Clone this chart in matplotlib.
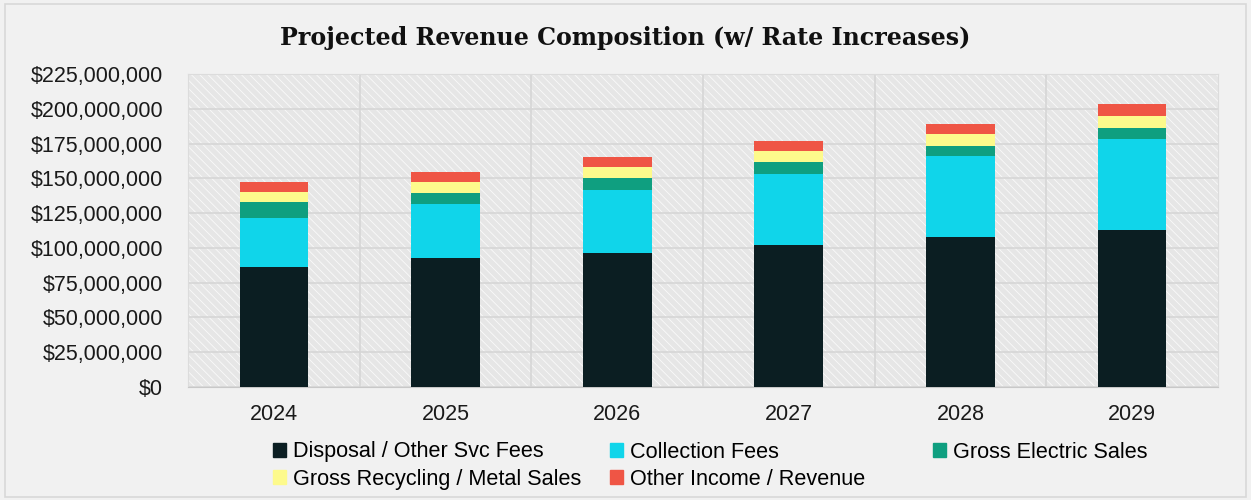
import matplotlib.pyplot as plt
import matplotlib.patches as mpatches
from matplotlib.ticker import FuncFormatter, MultipleLocator

years = ["2024", "2025", "2026", "2027", "2028", "2029"]

# revenue by source, in millions of dollars
disposal = [86.3, 93.0, 96.5, 101.9, 107.8, 112.6]
collection = [35.2, 38.6, 45.1, 51.2, 57.9, 65.7]
electric = [11.5, 7.9, 8.9, 8.4, 7.8, 8.2]
recycling = [7.0, 8.1, 7.9, 8.4, 8.2, 8.6]
other = [7.4, 7.2, 6.7, 7.0, 7.6, 8.1]

series = [
    ("Disposal / Other Svc Fees", disposal, "#0b1e22"),
    ("Collection Fees", collection, "#10d5ea"),
    ("Gross Electric Sales", electric, "#0f9f80"),
    ("Gross Recycling / Metal Sales", recycling, "#fdfa8c"),
    ("Other Income / Revenue", other, "#ef5545"),
]

plt.rcParams["font.family"] = ["Liberation Sans", "DejaVu Sans"]
plt.rcParams["hatch.color"] = "#fafafa"
plt.rcParams["hatch.linewidth"] = 0.6

fig = plt.figure(figsize=(12.51, 5), dpi=100, facecolor="#f1f1f1")
ax = fig.add_axes([0.1503, 0.226, 0.8233, 0.626])
ax.set_facecolor("#e6e6e6")

# hatched plot background
ax.add_patch(mpatches.Rectangle((0, 0), 1, 1, transform=ax.transAxes,
                                facecolor="#e6e6e6", hatch="\\\\\\\\",
                                edgecolor="#fafafa", linewidth=0, zorder=0))

# figure border
fig.add_artist(mpatches.Rectangle((0.004, 0.006), 0.992, 0.986,
                                  transform=fig.transFigure, fill=False,
                                  edgecolor="#d8d8d8", linewidth=1.2))

x = list(range(len(years)))
bottom = [0.0] * len(years)
handles = {}
for name, vals, color in series:
    ax.bar(x, [v * 1e6 for v in vals], width=0.4,
           bottom=[b * 1e6 for b in bottom], color=color,
           zorder=3, linewidth=0)
    handles[name] = mpatches.Patch(color=color, label=name)
    bottom = [b + v for b, v in zip(bottom, vals)]

ax.set_xlim(-0.5, len(years) - 0.5)
ax.set_ylim(0, 225e6)
ax.yaxis.set_major_locator(MultipleLocator(25e6))
ax.yaxis.set_major_formatter(FuncFormatter(lambda v, p: "${:,.0f}".format(v)))
ax.set_xticks(x)
ax.set_xticklabels(years)
ax.set_xticks([i + 0.5 for i in x[:-1]], minor=True)

ax.grid(axis="y", which="major", color="#d6d6d6", linewidth=1.2, zorder=1)
ax.grid(axis="x", which="minor", color="#d6d6d6", linewidth=1.2, zorder=1)
ax.tick_params(axis="both", which="both", length=0, labelsize=15.5,
               colors="#1a1a1a")
ax.tick_params(axis="x", pad=12)
ax.tick_params(axis="y", pad=18)
for side in ["top", "right", "left"]:
    ax.spines[side].set_color("#dcdcdc")
ax.spines["bottom"].set_color("#c8c8c8")

fig.text(0.5, 0.925, "Projected Revenue Composition (w/ Rate Increases)",
         ha="center", va="center", fontsize=17.1, fontweight="bold",
         family=["DejaVu Serif"], color="#111111")

# legend in three equal-width columns, filled row by row
columns = [
    (0.2185, ["Disposal / Other Svc Fees", "Gross Recycling / Metal Sales"]),
    (0.4880, ["Collection Fees", "Other Income / Revenue"]),
    (0.7460, ["Gross Electric Sales"]),
]
for xpos, names in columns:
    fig.legend(handles=[handles[n] for n in names], loc="upper left",
               bbox_to_anchor=(xpos, 0.117), frameon=False, fontsize=15.6,
               handlelength=0.6, handleheight=0.6, handletextpad=0.3,
               labelspacing=0.28, borderpad=0, borderaxespad=0)

fig.savefig("out.png", dpi=100, facecolor=fig.get_facecolor())
